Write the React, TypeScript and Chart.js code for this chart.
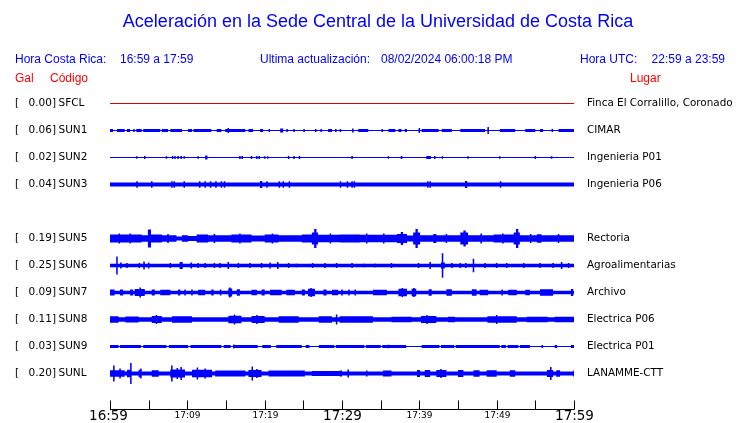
import { useEffect, useRef } from 'react';
import { Chart, registerables } from 'chart.js';

Chart.register(...registerables);

// ---------- data ----------
const TITLE = 'Aceleración en la Sede Central de la Universidad de Costa Rica';
const HEADER_CR = ['Hora Costa Rica:', '16:59 a 17:59'];
const HEADER_UPDATE = ['Ultima actualización:', '08/02/2024 06:00:18 PM'];
const HEADER_UTC = ['Hora UTC:', '22:59 a 23:59'];
const COL_HEADS = ['Gal', 'Código', 'Lugar'];

const STATIONS = ['SFCL', 'SUN1', 'SUN2', 'SUN3', 'SUN5', 'SUN6', 'SUN7', 'SUN8', 'SUN9', 'SUNL'];
const PEAK_GAL = ['0.00', '0.06', '0.02', '0.04', '0.19', '0.25', '0.09', '0.11', '0.03', '0.20'];
const PLACES = [
  'Finca El Corralillo, Coronado',
  'CIMAR',
  'Ingenieria P01',
  'Ingenieria P06',
  'Rectoria',
  'Agroalimentarias',
  'Archivo',
  'Electrica P06',
  'Electrica P01',
  'LANAMME-CTT',
];
const ROW_SLOTS = [0, 1, 2, 3, 5, 6, 7, 8, 9, 10];
const TRACE_COLORS = ['#e00000', '#0000ff', '#0000ff', '#0000ff', '#0000ff', '#0000ff', '#0000ff', '#0000ff', '#0000ff', '#0000ff'];

// minutes after 16:59
const TICK_MINUTES = [0, 5, 10, 15, 20, 25, 30, 35, 40, 45, 50, 55, 60];
const TICK_LABELS = ['16:59', '', '17:09', '', '17:19', '', '17:29', '', '17:39', '', '17:49', '', '17:59'];
const MAJOR_LABELS = ['16:59', '17:29', '17:59'];

// background noise half-amplitude of each trace (row spacing = 27 units)
const NOISE = [0, 0, 0, 2, 2, 1.7, 1.7, 2.3, 0.5, 2];

type Burst = [number, number, number]; // start minute, end minute, half-amplitude
type Spike = [number, number]; // minute, half-amplitude

const SFCL_BURSTS: Burst[] = [];
const SFCL_SPIKES: Spike[] = [];

const SUN1_BURSTS: Burst[] = [
  [0, 0.4, 1.5], [0.9, 1.9, 1.5], [2.2, 2.6, 1.5], [3.0, 3.2, 1.5], [3.4, 4.1, 1.5], [4.3, 6.5, 1.5],
  [6.7, 7.5, 1.5], [7.8, 9.3, 1.5], [10.1, 10.6, 1.5], [10.8, 13.1, 1.5], [13.8, 14.4, 1.5], [14.9, 17.5, 1.5],
  [17.9, 18.5, 1.5], [19.4, 19.8, 1.5], [22.0, 22.4, 2], [28.2, 28.7, 1.5], [32.1, 33.4, 1.5], [36.0, 36.9, 1.5],
  [37.3, 37.7, 1.5], [38.1, 38.4, 1.5], [40.3, 42.5, 1.5], [42.9, 44.2, 1.5], [45.3, 48.5, 1.5], [50.4, 52.4, 1.5],
  [53.7, 55.0, 1.5], [55.6, 56.0, 1.5], [58.0, 60, 1.5],
];
const SUN1_SPIKES: Spike[] = [
  [15.3, 2.5], [20.6, 1.5], [22.9, 1.5], [23.8, 1.5], [25.1, 1.5], [26.6, 1.5], [27.3, 1.5], [29.2, 1.5],
  [29.8, 1.5], [31.4, 2], [35.2, 1.5], [40.0, 2.5], [48.9, 3.5], [57.2, 1.5],
];

const SUN2_BURSTS: Burst[] = [[12.3, 12.6, 2], [40.9, 41.5, 1.5]];
const SUN2_SPIKES: Spike[] = [
  [3.45, 1.2], [4.5, 1.5], [7.3, 1.2], [8.1, 1.5], [8.4, 1.5], [8.8, 1.5], [9.2, 1.5], [9.6, 1.2], [11.4, 1.2],
  [16.8, 1.5], [17.1, 1.5], [18.3, 1.5], [19.0, 1.5], [19.3, 1.5], [20.0, 1.2], [20.4, 1.2], [23.1, 1.5],
  [23.8, 1.5], [24.5, 1.5], [31.3, 1.5], [36.0, 1.2], [37.7, 1.5], [42.0, 1.5], [43.0, 1.2], [46.3, 1.2],
  [50.4, 1.2], [55.0, 1.5], [57.1, 1.2],
];

const SUN3_BURSTS: Burst[] = [[19.4, 19.7, 3.5], [45.9, 46.2, 3.5]];
const SUN3_SPIKES: Spike[] = [
  [3.5, 3.3], [5.4, 3.3], [8.0, 3.3], [8.3, 3.3], [9.6, 3.3], [11.6, 3.3], [12.3, 3.3], [13.0, 3.3], [13.7, 3.3],
  [14.4, 3.3], [14.8, 3.3], [20.3, 3.3], [21.9, 3.3], [22.4, 3.3], [23.2, 3.3], [29.8, 3.3], [30.7, 3.3],
  [31.3, 3.3], [31.6, 3.3], [41.1, 3.3], [41.4, 3.3], [50.5, 3.3],
];

const SUN5_BURSTS: Burst[] = [
  [0, 4.1, 4], [4.1, 4.9, 3.2], [4.9, 5.3, 9], [5.3, 6.7, 4], [6.7, 8.6, 3.2], [9.3, 10.1, 3.2], [10.1, 11.2, 2.5],
  [11.2, 12.7, 4], [12.7, 15.7, 3.2], [15.7, 18.3, 4], [18.3, 20, 3], [20, 21.8, 4], [21.8, 24.8, 3.2],
  [24.8, 26.1, 4], [26.1, 26.9, 6], [26.4, 26.7, 9.5], [26.9, 29.7, 3.7], [29.7, 32.3, 4], [32.3, 37.1, 3.7],
  [37.1, 38.4, 4.5], [37.6, 37.9, 6.5], [38.4, 39.2, 3], [39.2, 40.1, 6], [39.5, 39.8, 9.5], [40.1, 41.8, 3.2],
  [41.8, 42.2, 4.5], [42.2, 45.3, 3.2], [45.3, 46.3, 6], [45.7, 46.0, 8], [46.3, 49.6, 3.2], [49.6, 52.2, 4],
  [52.2, 53.0, 6], [52.5, 52.8, 9.5], [53.0, 55.2, 3.2], [55.2, 55.8, 4.2], [55.8, 60, 3.2],
];
const SUN5_SPIKES: Spike[] = [
  [1.2, 5], [2.6, 5], [7.5, 4.5], [13.5, 4.5], [16.8, 5], [21.0, 5], [28.5, 5], [33.2, 5], [35.4, 5],
  [43.5, 4.5], [48.0, 5], [50.8, 5], [54.4, 4.5], [58.0, 4.5],
];

const SUN6_BURSTS: Burst[] = [[9.0, 9.4, 3.5], [42.8, 43.3, 3]];
const SUN6_SPIKES: Spike[] = [
  [0.9, 9], [1.4, 3], [2.2, 2.5], [3.8, 2.5], [4.4, 4], [5.0, 3], [7.8, 2.5], [10.5, 3], [11.4, 2.5], [12.3, 2.5],
  [13.5, 2.5], [14.2, 2.5], [15.3, 3.5], [16.6, 2.5], [18.1, 2.5], [19.6, 2.5], [20.7, 3], [21.7, 3.5],
  [23.1, 2.5], [24.1, 2], [26.2, 2.5], [27.8, 2.5], [29.3, 2.5], [31.3, 2.5], [32.8, 2], [34.3, 2], [36.4, 2.5],
  [39.9, 2.5], [41.4, 3.5], [43.0, 12.3], [44.2, 2.5], [45.3, 2.5], [46.0, 2.5], [47.0, 6.7], [48.5, 2.5],
  [50.0, 2.5], [51.3, 2.5], [53.5, 2.5], [55.6, 2.5], [57.3, 2.5], [58.4, 3.5], [59.3, 2.5],
];

const SUN7_BURSTS: Burst[] = [
  [0, 0.6, 3], [1.3, 1.7, 3], [2.6, 3.0, 3], [3.2, 4.5, 3.5], [5.4, 5.8, 3], [6.5, 7.8, 2.8],
  [8.8, 9.1, 3], [9.6, 9.8, 3], [10.5, 10.7, 3], [11.4, 12.3, 2.8], [13.1, 13.4, 3], [14.2, 14.4, 3],
  [15.3, 15.8, 4], [16.4, 16.8, 3.2], [18.3, 19.0, 2.8], [19.6, 20.0, 3], [20.7, 22.2, 2.8], [22.8, 23.9, 2.8],
  [24.8, 25.2, 3], [25.6, 26.5, 3.8], [27.6, 28.0, 3], [28.7, 29.5, 2.8], [29.9, 30.1, 3], [30.8, 31.0, 3],
  [31.6, 31.8, 3], [34.0, 35.8, 2.8], [37.3, 38.4, 3.8], [39.0, 39.6, 3.8], [41.2, 41.6, 3.2], [43.5, 44.2, 3.2],
  [46.8, 47.4, 3.2], [47.8, 48.9, 2.8], [50.6, 50.8, 3], [51.5, 52.6, 2.8], [53.7, 54.3, 2.8], [55.6, 57.3, 3.2],
  [59.6, 59.9, 3.5],
];
const SUN7_SPIKES: Spike[] = [[3.9, 5], [15.5, 5], [26.0, 4.5], [37.8, 4.5], [39.3, 4.5]];

const SUN8_BURSTS: Burst[] = [
  [0, 1.1, 3.3], [2.0, 3.7, 3], [5.4, 6.7, 3.6], [8.0, 10.6, 3.2], [15.3, 17.0, 3.8], [18.3, 20.0, 3.5],
  [21.8, 24.4, 3.2], [27.0, 28.7, 3.2], [29.7, 34.0, 3.2], [36.4, 39.0, 2.8], [40.2, 42.2, 3.6], [43.7, 44.6, 2.8],
  [48.8, 52.6, 3.2], [53.9, 56.6, 2.8], [57.5, 60, 2.8],
];
const SUN8_SPIKES: Spike[] = [[6.0, 4.5], [16.1, 5], [19.0, 4.5], [29.3, 5], [41.0, 4.5], [50.0, 4.5]];

const SUN9_BURSTS: Burst[] = [
  [0, 1.1, 1.4], [1.3, 4.0, 1.4], [4.3, 7.3, 1.4], [7.6, 10.1, 1.4], [10.4, 14.4, 1.4], [14.7, 15.6, 1.4],
  [15.9, 19.1, 1.4], [19.7, 20.8, 1.4], [21.5, 24.8, 1.4], [25.3, 25.8, 1.4], [27.0, 29.0, 1.4],
  [29.2, 32.9, 1.4], [33.1, 35.0, 1.4], [35.2, 38.3, 1.4], [40.3, 42.6, 1.4], [42.8, 44.5, 1.4],
  [44.7, 50.4, 1.4], [50.6, 51.2, 1.4], [51.4, 52.8, 1.4], [53.0, 54.3, 1.4], [55.8, 56.0, 1.4],
  [57.5, 57.8, 1.4], [59.6, 60, 1.4],
];
const SUN9_SPIKES: Spike[] = [[16.0, 2], [36.0, 1.8]];

const SUNL_BURSTS: Burst[] = [
  [0, 1.9, 3.3], [2.2, 2.8, 3.8], [3.7, 4.1, 3.8], [5.4, 6.3, 3.3], [7.8, 9.7, 4], [10.6, 13.2, 3.8],
  [13.6, 17.5, 3], [17.9, 19.6, 3.6], [20.5, 25.2, 3], [26.1, 29.7, 2.6], [29.7, 30.0, 3], [30.7, 30.9, 4],
  [33.1, 33.3, 3], [35.3, 36.4, 3], [39.7, 40.1, 3.5], [40.7, 41.4, 3.5], [42.2, 43.5, 3.6], [45.0, 45.7, 3.6],
  [47.0, 47.8, 3.3], [48.7, 50.0, 3.3], [51.7, 52.4, 3.3], [56.5, 57.3, 3.6], [57.7, 58.2, 3.3], [59.9, 60, 3],
];
const SUNL_SPIKES: Spike[] = [
  [0.5, 8], [1.3, 5], [2.7, 10.5], [4.0, 5], [8.0, 8], [8.7, 5.5], [9.2, 6.5], [11.3, 6], [12.3, 5],
  [18.4, 7], [19.0, 4.5], [42.8, 4.5], [57.0, 6.5],
];

const BURSTS: Burst[][] = [SFCL_BURSTS, SUN1_BURSTS, SUN2_BURSTS, SUN3_BURSTS, SUN5_BURSTS, SUN6_BURSTS, SUN7_BURSTS, SUN8_BURSTS, SUN9_BURSTS, SUNL_BURSTS];
const SPIKES: Spike[][] = [SFCL_SPIKES, SUN1_SPIKES, SUN2_SPIKES, SUN3_SPIKES, SUN5_SPIKES, SUN6_SPIKES, SUN7_SPIKES, SUN8_SPIKES, SUN9_SPIKES, SUNL_SPIKES];

// ---------- config ----------
const T_MIN = 0;
const T_MAX = 60;
const ROW_GAP = 27;
const SPIKE_W = 0.2;
const BLUE = '#0000ff';
const RED = '#ff0000';
const SANS = '"Liberation Sans", Arial, sans-serif';
const DEJAVU = '"DejaVu Sans", sans-serif';

function envelope(noise: number, bursts: Burst[], spikes: Spike[]): [number, number][] {
  const segs: Burst[] = [
    ...bursts,
    ...spikes.map(([t, a]) => [t - SPIKE_W / 2, t + SPIKE_W / 2, a] as Burst),
  ];
  const times = new Set<number>([T_MIN, T_MAX]);
  segs.forEach(([s, e]) => {
    times.add(Math.max(T_MIN, Math.min(T_MAX, s)));
    times.add(Math.max(T_MIN, Math.min(T_MAX, e)));
  });
  const sorted = [...times].sort((a, b) => a - b);
  const levels = sorted.map((t) => {
    let a = noise;
    segs.forEach(([s, e, v]) => {
      if (t >= s && t < e) a = Math.max(a, v);
    });
    return a;
  });
  if (levels.length > 1) levels[levels.length - 1] = levels[levels.length - 2];
  // explicit steps: hold each level until the next boundary
  const pts: [number, number][] = [];
  sorted.forEach((t, k) => {
    if (k > 0) pts.push([t, levels[k - 1]]);
    pts.push([t, levels[k]]);
  });
  return pts;
}

function buildDatasets() {
  const ds: any[] = [];
  STATIONS.forEach((_, i) => {
    const base = ROW_SLOTS[i] * ROW_GAP;
    const env = envelope(NOISE[i], BURSTS[i], SPIKES[i]);
    const color = TRACE_COLORS[i];
    const common = {
      borderColor: color,
      backgroundColor: color,
      borderWidth: 0,
      pointRadius: 0,
      tension: 0,
    };
    ds.push({ ...common, data: env.map(([t, a]) => ({ x: t, y: base - a })), fill: false });
    ds.push({ ...common, data: env.map(([t, a]) => ({ x: t, y: base + a })), fill: '-1' });
    ds.push({
      ...common,
      borderWidth: 1,
      data: [{ x: T_MIN, y: base }, { x: T_MAX, y: base }],
      fill: false,
    });
  });
  return ds;
}

const overlay = {
  id: 'overlay',
  afterDraw(chart: any) {
    const ctx: CanvasRenderingContext2D = chart.ctx;
    const xs = chart.scales.x;
    const ys = chart.scales.y;
    ctx.save();
    ctx.textBaseline = 'middle';

    // title
    ctx.fillStyle = BLUE;
    ctx.font = `18px ${SANS}`;
    ctx.textAlign = 'center';
    ctx.fillText(TITLE, 378, 22);

    // header line
    ctx.font = `12px ${SANS}`;
    ctx.textAlign = 'left';
    ctx.fillText(HEADER_CR[0], 15, 60);
    ctx.fillText(HEADER_CR[1], 120, 60);
    ctx.fillText(HEADER_UPDATE[0], 260, 60);
    ctx.fillText(HEADER_UPDATE[1], 381, 60);
    ctx.fillText(HEADER_UTC[0], 580, 60);
    ctx.textAlign = 'right';
    ctx.fillText(HEADER_UTC[1], 725, 60);

    // column heads
    ctx.fillStyle = RED;
    ctx.textAlign = 'left';
    ctx.fillText(COL_HEADS[0], 15, 79);
    ctx.fillText(COL_HEADS[1], 50, 79);
    ctx.fillText(COL_HEADS[2], 630, 79);

    // row labels
    ctx.fillStyle = '#000000';
    STATIONS.forEach((s, i) => {
      const py = ys.getPixelForValue(ROW_SLOTS[i] * ROW_GAP);
      ctx.font = `10.5px ${DEJAVU}`;
      ctx.textAlign = 'left';
      ctx.fillText('[', 15, py);
      ctx.textAlign = 'right';
      ctx.fillText(`${PEAK_GAL[i]}]`, 56, py);
      ctx.textAlign = 'left';
      ctx.fillText(s, 58.5, py);
      ctx.font = `10.4px ${DEJAVU}`;
      ctx.fillText(PLACES[i], 587, py);
    });

    // time axis
    const ay = Math.round(chart.chartArea.bottom) + 0.5;
    const x0 = xs.getPixelForValue(T_MIN);
    const x1 = xs.getPixelForValue(T_MAX);
    ctx.strokeStyle = '#000000';
    ctx.lineWidth = 1;
    ctx.beginPath();
    ctx.moveTo(x0, ay);
    ctx.lineTo(x1 + 0.5, ay);
    ctx.stroke();
    TICK_MINUTES.forEach((m, k) => {
      const px = Math.round(xs.getPixelForValue(m)) + 0.5;
      ctx.beginPath();
      ctx.moveTo(px, ay);
      ctx.lineTo(px, ay - 9);
      ctx.stroke();
      const lab = TICK_LABELS[k];
      if (lab) {
        const major = MAJOR_LABELS.includes(lab);
        ctx.font = major ? `13.5px ${DEJAVU}` : `9px ${DEJAVU}`;
        ctx.textAlign = 'center';
        ctx.fillText(lab, major && m === T_MIN ? px - 2 : px, major ? 416 : 415.5);
      }
    });
    ctx.restore();
  },
};

export default function App() {
  const ref = useRef<HTMLCanvasElement>(null);
  useEffect(() => {
    if (!ref.current) return;
    const chart = new Chart(ref.current, {
      type: 'line',
      data: { datasets: buildDatasets() },
      options: {
        animation: false,
        responsive: false,
        events: [],
        layout: { padding: { left: 110, right: 166, top: 90, bottom: 14 } },
        plugins: { legend: { display: false }, tooltip: { enabled: false }, title: { display: false } },
        scales: {
          x: { type: 'linear', min: T_MIN, max: T_MAX, display: false },
          y: { type: 'linear', min: -13.5, max: 305.5, reverse: true, display: false },
        },
      },
      plugins: [overlay],
    });
    return () => chart.destroy();
  }, []);
  return (
    <div style={{ position: 'absolute', left: 0, top: 0, width: 740, height: 423, background: '#ffffff' }}>
      <canvas ref={ref} width={740} height={423} style={{ display: 'block' }} />
    </div>
  );
}
